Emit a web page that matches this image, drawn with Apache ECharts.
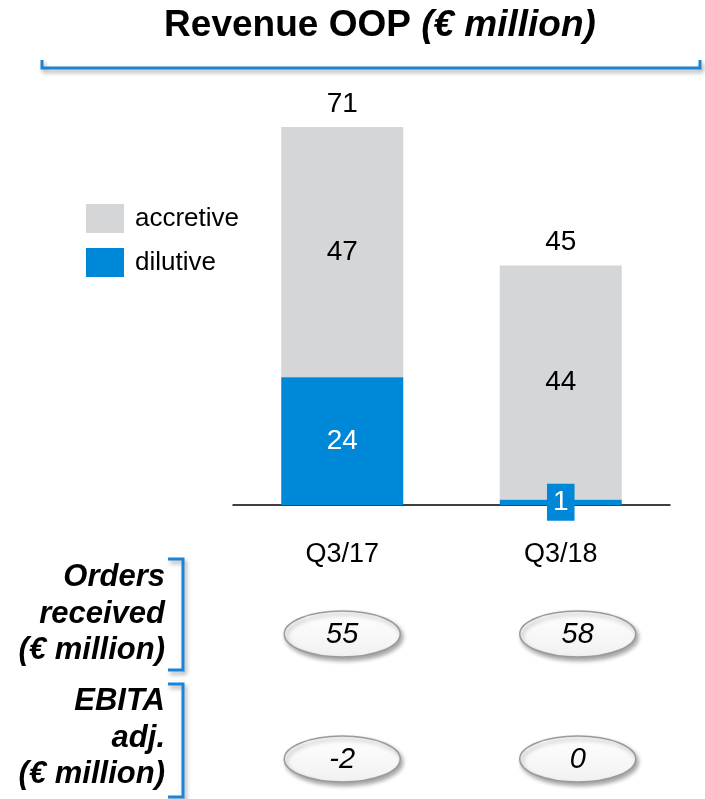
<!DOCTYPE html>
<html>
<head>
<meta charset="utf-8">
<script src="https://cdn.jsdelivr.net/npm/echarts@6/dist/echarts.min.js"></script>
<style>
  html, body { margin: 0; padding: 0; background: #fff; }
  #chart { width: 705px; height: 799px; }
</style>
</head>
<body>
<div id="chart"></div>
<script>
const categories = ['Q3/17', 'Q3/18']
const accretive = [47, 44]
const dilutive = [24, 1]
const totals = [71, 45]
const ordersReceived = ['55', '58']
const ebitaAdj = ['-2', '0']

const FONT = '"Liberation Sans", Arial, sans-serif'
const GREY = '#d5d6d8'
const BLUE = '#0088d8'
const LINE_BLUE = '#1b84d6'

const myChart = echarts.init(document.getElementById('chart'))

const option = {
  animation: false,
  backgroundColor: '#fff',
  textStyle: { fontFamily: FONT },
  legend: {
    orient: 'vertical',
    left: 81,
    top: 199,
    itemWidth: 38,
    itemHeight: 29,
    itemGap: 15,
    icon: 'rect',
    selectedMode: false,
    data: ['accretive', 'dilutive'],
    textStyle: { fontSize: 26, color: '#000', fontFamily: FONT, padding: [5, 0, 0, 6] }
  },
  grid: {
    left: 233,
    right: 35,
    top: 127,
    bottom: 294,
    containLabel: false
  },
  xAxis: {
    type: 'category',
    data: categories,
    axisTick: { show: false },
    axisLine: { lineStyle: { color: '#000', width: 1.5 } },
    axisLabel: { color: '#000', fontSize: 27, margin: 36, fontFamily: FONT }
  },
  yAxis: {
    type: 'value',
    min: 0,
    max: 71,
    show: false
  },
  series: [
    {
      name: 'dilutive',
      type: 'bar',
      stack: 'rev',
      barWidth: 122,
      itemStyle: { color: BLUE },
      z: 3,
      label: {
        show: true,
        position: 'inside',
        color: '#fff',
        fontSize: 28,
        fontFamily: FONT
      },
      data: [
        dilutive[0],
        {
          value: dilutive[1],
          label: { backgroundColor: BLUE, padding: [5, 6, 4, 6] }
        }
      ]
    },
    {
      name: 'accretive',
      type: 'bar',
      stack: 'rev',
      barWidth: 122,
      itemStyle: { color: GREY },
      label: {
        show: true,
        position: 'inside',
        color: '#000',
        fontSize: 28,
        fontFamily: FONT
      },
      data: accretive
    },
    {
      // invisible bar that only carries the total on top
      name: 'total',
      type: 'bar',
      barWidth: 122,
      barGap: '-100%',
      silent: true,
      z: 1,
      itemStyle: { color: 'rgba(0,0,0,0)' },
      label: {
        show: true,
        position: 'top',
        distance: 9,
        color: '#000',
        fontSize: 28,
        fontFamily: FONT
      },
      data: totals
    }
  ]
}

myChart.setOption(option)

// title, ovals and side brackets
const ovalOffset = [0, 17]
const rowY = [634, 759]
const rows = [ordersReceived, ebitaAdj]
const shadow = { shadowBlur: 4, shadowOffsetX: 2, shadowOffsetY: 3, shadowColor: 'rgba(0,0,0,0.35)' }
const graphics = []

graphics.push({
  type: 'text',
  style: {
    x: 380, y: 26,
    text: '{b|Revenue OOP }{i|(€ million)}',
    align: 'center',
    verticalAlign: 'middle',
    rich: {
      b: { fontSize: 37, fontWeight: 'bold', fontFamily: FONT, fill: '#000' },
      i: { fontSize: 37, fontWeight: 'bold', fontStyle: 'italic', fontFamily: FONT, fill: '#000' }
    }
  }
})
graphics.push({
  type: 'polyline',
  shape: { points: [[42, 60], [42, 68], [700, 68], [700, 60]] },
  style: Object.assign({ stroke: LINE_BLUE, lineWidth: 3, fill: null }, shadow)
})

const brackets = [[559, 670], [684, 797]]
brackets.forEach(b => {
  graphics.push({
    type: 'polyline',
    shape: { points: [[168, b[0]], [183, b[0]], [183, b[1]], [168, b[1]]] },
    style: Object.assign({ stroke: LINE_BLUE, lineWidth: 3, fill: null }, shadow)
  })
})

const sideLabels = [
  [['Orders', 577], ['received', 614], ['(€ million)', 650]],
  [['EBITA', 701], ['adj.', 738], ['(€ million)', 774]]
]
sideLabels.forEach(group => {
  group.forEach(([t, y]) => {
    graphics.push({
      type: 'text',
      style: {
        x: 165, y: y,
        text: t,
        align: 'right',
        verticalAlign: 'middle',
        fontSize: 31,
        fontWeight: 'bold',
        fontStyle: 'italic',
        fontFamily: FONT,
        fill: '#000'
      }
    })
  })
})

rows.forEach((vals, r) => {
  vals.forEach((v, i) => {
    const cx = myChart.convertToPixel({ xAxisIndex: 0 }, categories[i]) + ovalOffset[i]
    graphics.push({
      type: 'ellipse',
      shape: { cx: cx, cy: rowY[r], rx: 58, ry: 23 },
      style: Object.assign({
        fill: new echarts.graphic.LinearGradient(0, 0, 0, 1, [
          { offset: 0, color: '#ffffff' },
          { offset: 1, color: '#f1f1f1' }
        ]),
        stroke: '#9a9a9a',
        lineWidth: 1.5
      }, shadow)
    })
    graphics.push({
      type: 'text',
      style: {
        x: cx, y: rowY[r] + 1,
        text: v,
        align: 'center',
        verticalAlign: 'middle',
        fontSize: 29,
        fontStyle: 'italic',
        fontFamily: FONT,
        fill: '#000'
      }
    })
  })
})

myChart.setOption({ graphic: graphics })
</script>
</body>
</html>
